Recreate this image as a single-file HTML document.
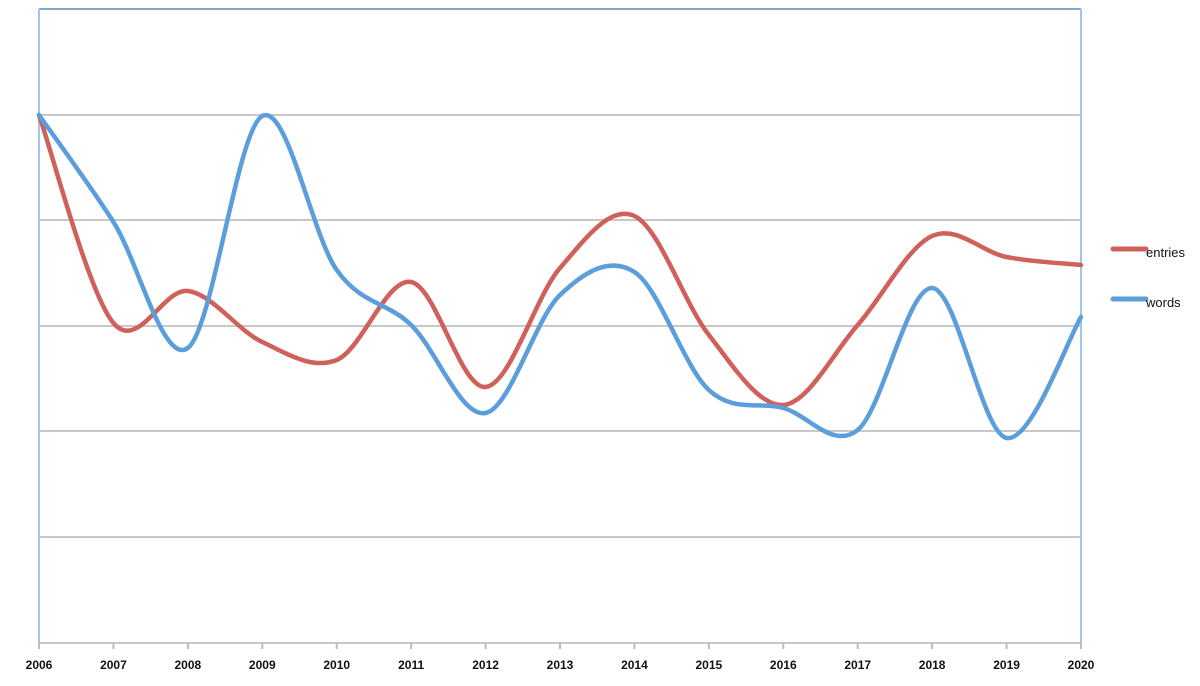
<!DOCTYPE html>
<html><head><meta charset="utf-8"><style>
html,body{margin:0;padding:0;background:#fff;width:1200px;height:686px;overflow:hidden}
text{font-family:"Liberation Sans",sans-serif;font-size:12px;fill:#111}
</style></head><body>
<svg id="s" width="1200" height="686" xmlns="http://www.w3.org/2000/svg">
<g stroke="#c8c8c8" stroke-width="2">
<line x1="39" y1="115" x2="1081" y2="115"/>
<line x1="39" y1="220" x2="1081" y2="220"/>
<line x1="39" y1="326" x2="1081" y2="326"/>
<line x1="39" y1="431" x2="1081" y2="431"/>
<line x1="39" y1="537" x2="1081" y2="537"/>
<line x1="39" y1="643" x2="1081" y2="643"/>
</g>
<g stroke="#9fc5ea" stroke-width="2">
<line x1="39" y1="9" x2="1081" y2="9" stroke="#7fa7d4"/>
<line x1="39" y1="9" x2="39" y2="643"/>
<line x1="1081" y1="9" x2="1081" y2="643"/>
</g>
<g id="ticks" stroke="#bbb" stroke-width="2"></g>
<path id="e" fill="none" stroke="#d0605a" stroke-width="4.5" stroke-linecap="round"/>
<path id="w" fill="none" stroke="#5c9edb" stroke-width="4.5" stroke-linecap="round"/>
<g id="lbl" style="font-weight:600"></g>
<line x1="1113" y1="249" x2="1146" y2="249" stroke="#d0605a" stroke-width="5" stroke-linecap="round"/>
<text x="1146" y="257" style="font-size:13px">entries</text>
<line x1="1113" y1="299" x2="1146" y2="299" stroke="#5c9edb" stroke-width="5" stroke-linecap="round"/>
<text x="1146" y="307" style="font-size:13px">words</text>
</svg>
<script>
var xs=[];for(var i=0;i<15;i++)xs.push(39+i*(1042/14));
var E=[115,323,291,342,360,282,387,268,216,335,405,325,236,257,265];
var W=[115,222,348,116,270,325,413,295,272,390,408,430,288,438,317];
function path(Y){var p=[];for(var i=0;i<15;i++)p.push([xs[i],Y[i]]);
var d="M"+p[0][0]+","+p[0][1];
for(var i=0;i<14;i++){var p0=p[i-1]||p[i],p1=p[i],p2=p[i+1],p3=p[i+2]||p[i+1];
var c1x=p1[0]+(p2[0]-p0[0])/6,c1y=p1[1]+(p2[1]-p0[1])/6;
var c2x=p2[0]-(p3[0]-p1[0])/6,c2y=p2[1]-(p3[1]-p1[1])/6;
d+=" C"+c1x+","+c1y+" "+c2x+","+c2y+" "+p2[0]+","+p2[1];}
return d;}
document.getElementById("e").setAttribute("d",path(E));
document.getElementById("w").setAttribute("d",path(W));
var ns="http://www.w3.org/2000/svg",g=document.getElementById("lbl"),tk=document.getElementById("ticks");
for(var i=0;i<15;i++){var t=document.createElementNS(ns,"text");t.setAttribute("x",xs[i]);t.setAttribute("y",669);t.setAttribute("text-anchor","middle");t.textContent=2006+i;g.appendChild(t);
var l=document.createElementNS(ns,"line");l.setAttribute("x1",xs[i]);l.setAttribute("x2",xs[i]);l.setAttribute("y1",643);l.setAttribute("y2",649);tk.appendChild(l);}
</script>
</body></html>
